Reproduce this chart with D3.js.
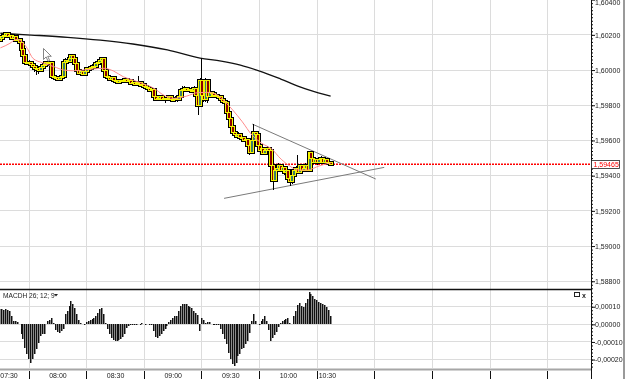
<!DOCTYPE html>
<html>
<head>
<meta charset="utf-8">
<script src="https://cdnjs.cloudflare.com/ajax/libs/d3/7.8.5/d3.min.js"></script>
<style>
  body { margin: 0; background: #fff; }
  svg { display: block; font-family: "Liberation Sans", Arial, sans-serif; will-change: transform; }
</style>
</head>
<body>
<div id="chart"></div>
<script>
// prices are in 1e-5 units (160182 = 1,60182), one bar per minute from 07:45
const opens = [
  160170,160182,160193,160199,160205,160193,160199,160182,160193,160170,
  160176,160159,160114,160080,160045,160040,160045,160034,160023,160006,
  160011,160000,160017,160028,160034,160045,160040,160045,159966,159955,
  159960,159949,159960,159966,160045,160057,160051,160063,160080,160068,
  160040,160000,159983,159989,159977,159989,160006,160011,160017,160023,
  160023,160040,160045,160057,160063,160000,159966,159955,159949,159955,
  159943,159937,159932,159943,159937,159943,159949,159937,159943,159926,
  159932,159920,159926,159932,159915,159920,159909,159903,159898,159886,
  159892,159847,159835,159841,159847,159835,159841,159830,159841,159847,
  159830,159835,159841,159830,159847,159886,159892,159898,159886,159892,
  159881,159886,159898,159858,159801,159943,159858,159830,159943,159852,
  159875,159864,159852,159858,159847,159852,159835,159824,159818,159761,
  159727,159682,159648,159636,159625,159636,159619,159614,159602,159608,
  159574,159534,159602,159648,159631,159574,159545,159557,159528,159545,
  159557,159545,159460,159375,159432,159443,159460,159432,159449,159420,
  159432,159386,159364,159403,159432,159443,159420,159455,159432,159443,
  159460,159432,159534,159500,159477,159489,159472,159489,159500,159477,
  159489,159472,159477
];
const highs = [
  160199,160205,160210,160210,160210,160205,160205,160199,160199,160182,
  160182,160165,160119,160085,160051,160057,160051,160040,160028,160023,
  160017,160023,160034,160040,160051,160057,160051,160051,159972,159966,
  159966,159966,159977,160051,160068,160063,160068,160085,160085,160074,
  160045,160006,160000,159994,160000,160011,160023,160028,160034,160040,
  160045,160057,160063,160074,160068,160006,159972,159960,159960,159960,
  159949,159943,159949,159949,159955,159960,159955,159949,159949,159937,
  159937,159932,159966,159937,159926,159926,159915,159909,159903,159898,
  159898,159852,159852,159852,159852,159847,159847,159852,159858,159852,
  159847,159852,159847,159858,159898,159909,159909,159903,159903,159898,
  159898,159909,159903,159869,159955,160068,159886,159955,159949,159886,
  159881,159869,159869,159864,159858,159858,159841,159835,159824,159767,
  159733,159688,159653,159642,159648,159642,159631,159619,159619,159614,
  159580,159608,159693,159653,159636,159580,159568,159563,159551,159568,
  159563,159551,159500,159443,159455,159472,159466,159460,159455,159443,
  159438,159398,159415,159443,159455,159517,159466,159460,159455,159472,
  159466,159540,159540,159506,159500,159500,159500,159511,159506,159500,
  159494,159489,159483
];
const lows = [
  160165,160176,160188,160193,160182,160188,160170,160176,160159,160165,
  160148,160102,160068,160034,160028,160034,160023,160011,159989,159972,
  159977,159989,160011,160023,160028,160034,160034,159955,159943,159943,
  159937,159943,159955,159960,160040,160045,160045,160057,160057,160028,
  159989,159972,159972,159966,159972,159983,160000,160006,160011,160011,
  160017,160034,160040,160051,159989,159955,159943,159937,159943,159932,
  159926,159920,159926,159926,159932,159937,159926,159932,159915,159920,
  159909,159915,159920,159903,159909,159898,159892,159886,159875,159881,
  159835,159824,159830,159830,159824,159830,159812,159824,159830,159818,
  159824,159830,159818,159824,159841,159881,159886,159875,159881,159869,
  159875,159881,159847,159744,159790,159847,159818,159818,159812,159847,
  159852,159841,159847,159835,159841,159824,159812,159807,159750,159716,
  159671,159636,159625,159614,159619,159608,159602,159591,159597,159563,
  159517,159523,159597,159619,159563,159534,159534,159517,159517,159540,
  159534,159443,159318,159364,159420,159432,159420,159426,159403,159409,
  159375,159341,159352,159392,159420,159409,159409,159420,159426,159432,
  159420,159426,159489,159466,159472,159460,159466,159483,159466,159472,
  159460,159460,159455
];
const closes = [
  160182,160193,160199,160205,160193,160199,160182,160193,160170,160176,
  160159,160114,160080,160045,160040,160045,160034,160023,160006,160011,
  160000,160017,160028,160034,160045,160040,160045,159966,159955,159960,
  159949,159960,159966,160045,160057,160051,160063,160080,160068,160040,
  160000,159983,159989,159977,159989,160006,160011,160017,160023,160023,
  160040,160045,160057,160063,160000,159966,159955,159949,159955,159943,
  159937,159932,159943,159937,159943,159949,159937,159943,159926,159932,
  159920,159926,159932,159915,159920,159909,159903,159898,159886,159892,
  159847,159835,159841,159847,159835,159841,159830,159841,159847,159830,
  159835,159841,159830,159847,159886,159892,159898,159886,159892,159881,
  159886,159898,159858,159801,159943,159858,159830,159943,159852,159875,
  159864,159852,159858,159847,159852,159835,159824,159818,159761,159727,
  159682,159648,159636,159625,159636,159619,159614,159602,159608,159574,
  159534,159602,159648,159631,159574,159545,159557,159528,159545,159557,
  159545,159460,159375,159432,159443,159460,159432,159449,159420,159432,
  159386,159364,159403,159432,159443,159420,159455,159432,159443,159460,
  159432,159534,159500,159477,159489,159472,159489,159500,159477,159489,
  159472,159477,159465
];

// MACD histogram, 1e-5 units, same bars
const macdHist = [
  8.5, 8.5, 8.3, 8.5, 8.1, 7.6, 4.7, 1.9, 1.9, 1.3,
  0.4, -5.7, -8.5, -13.3, -17.0, -19.9, -21.8, -19.9, -17.0, -14.2,
  -10.4, -6.6, -5.7, -5.3, 0.4, 1.9, 2.5, 3.8, 0.9, -3.4,
  -4.4, -5.1, -3.8, -2.8, 5.7, 7.6, 10.4, 13.3, 11.7, 9.1,
  6.1, 2.3, 0.8, 0.4, -0.4, 1.1, 1.9, 2.3, 2.8, 3.8,
  4.7, 6.6, 8.5, 9.5, 6.1, 0.9, -2.8, -5.7, -7.6, -9.1,
  -9.5, -9.5, -8.9, -8.1, -7.2, -5.3, -2.3, -0.9, -0.6, -0.4,
  -0.4, 0.1, 0.4, 0.1, 0.6, 0.4, -0.4, 0.4, 0.1, -0.6,
  -3.8, -7.2, -7.6, -6.4, -5.3, -3.8, -2.7, -0.9, 1.3, 2.7,
  3.8, 4.5, 4.5, 7.6, 10.4, 11.7, 11.7, 11.4, 10.6, 9.8,
  9.1, 7.6, 6.4, 5.3, -3.8, 3.4, 2.7, 0.9, 1.3, 1.3,
  0.4, 0.1, 0.1, -0.4, -0.4, -2.8, -5.7, -8.5, -11.4, -16.1,
  -19.9, -22.3, -23.7, -21.8, -18.0, -16.7, -14.2, -13.3, -11.4, -9.5,
  -4.7, 1.9, 6.1, 1.9, 0.4, -0.4, 1.9, 2.8, 4.7, 1.9,
  -3.4, -9.5, -8.0, -6.3, -4.2, -1.5, 0.9, 1.9, 2.5, 3.0,
  3.4, 0.9, 0.4, 4.7, 7.6, 11.0, 12.3, 10.4, 9.8, 12.3,
  14.2, 18.6, 17.4, 15.9, 14.6, 13.6, 12.5, 12.3, 11.7, 11.0,
  9.8, 8.0, 4.7
];

// moving averages read at some bars
const slowMaBars = [0, 16, 35, 52, 69, 87, 104, 115, 125, 135, 146, 156, 161, 172];
const slowMa = [160209, 160199, 160186, 160170, 160148, 160114, 160068, 160051, 160028, 159994, 159949, 159905, 159886, 159852];
const fastMaBars = [0, 5, 8, 10, 14, 17, 22, 28, 33, 38, 43, 48, 54, 59, 64, 69, 74, 80, 85, 90,
  97, 103, 108, 113, 117, 121, 126, 131, 136, 142, 145, 150, 155, 160, 166, 171, 172];
const fastMa = [160126, 160152, 160174, 160170, 160123, 160066, 160041, 160019, 160000, 159996,
  160000, 160006, 160010, 159994, 159962, 159943, 159924, 159896, 159858, 159839,
  159852, 159872, 159873, 159858, 159820, 159773, 159706, 159631, 159585, 159545,
  159507, 159460, 159432, 159432, 159455, 159470, 159472];

// triangle drawn on the chart
const trendUpper = [["09:56:12", 159693], ["11:00:30", 159381]];
const trendLower = [["09:41:30", 159271], ["11:04:54", 159447]];

const lastPrice = 159465;
const priceTicks = [158800, 159000, 159200, 159400, 159600, 159800, 160000, 160200, 160400];
const macdTicks = [10, 0, -10, -20];
const timeLabels = ["07:30", "08:00", "08:30", "09:00", "09:30", "10:00", "10:30"];

const W = 625, H = 379, plotW = 591;
const mainBottom = 289, macdTop = 290, macdBottom = 368;

const parseTime = d3.timeParse("%H:%M:%S");
const firstBar = parseTime("07:45:00");

const bars = closes.map((c, i) => ({
  t: d3.timeMinute.offset(firstBar, i),
  o: opens[i], h: highs[i], l: lows[i], c: c, m: macdHist[i]
}));

const x = d3.scaleTime().domain([parseTime("07:44:48"), parseTime("12:52:36")]).range([0, plotW]);
const y = d3.scaleLinear().domain([158756, 160398]).range([mainBottom, 0]);
const yM = d3.scaleLinear().domain([-24.8, 19.5]).range([macdBottom, macdTop]);

const fmt = v => (v / 1e5).toFixed(5).replace(".", ",");

const svg = d3.select("#chart").append("svg")
  .attr("width", W).attr("height", H);

svg.append("defs").call(d => {
  d.append("clipPath").attr("id", "clipMain").append("rect")
    .attr("x", 0).attr("y", 0).attr("width", plotW).attr("height", mainBottom);
  d.append("clipPath").attr("id", "clipMacd").append("rect")
    .attr("x", 0).attr("y", macdTop).attr("width", plotW).attr("height", macdBottom - macdTop);
});

// grid
const gridTimes = x.ticks(d3.timeMinute.every(30));
const grid = svg.append("g").attr("stroke", "#dcdcdc").attr("shape-rendering", "crispEdges");
grid.selectAll(".vg").data(gridTimes).join("line")
  .attr("x1", d => x(d)).attr("x2", d => x(d))
  .attr("y1", 0).attr("y2", macdBottom);
grid.selectAll(".hg").data(priceTicks).join("line")
  .attr("x1", 0).attr("x2", plotW)
  .attr("y1", d => y(d)).attr("y2", d => y(d));
grid.selectAll(".mg").data(macdTicks).join("line")
  .attr("x1", 0).attr("x2", plotW)
  .attr("y1", d => yM(d)).attr("y2", d => yM(d));

// main panel
const main = svg.append("g").attr("clip-path", "url(#clipMain)");

const maLine = d3.line().x(d => x(bars[d[0]].t)).y(d => y(d[1])).curve(d3.curveMonotoneX);
main.append("path")
  .datum(slowMaBars.map((b, i) => [b, slowMa[i]]))
  .attr("fill", "none").attr("stroke", "#111").attr("stroke-width", 1.3)
  .attr("d", maLine);

const lastY = y(lastPrice);
main.append("line")
  .attr("x1", 0).attr("x2", plotW).attr("y1", lastY).attr("y2", lastY)
  .attr("stroke", "#f00").attr("stroke-width", 1.5).attr("stroke-dasharray", "2,1");

const trend = d3.line().x(d => x(parseTime(d[0]))).y(d => y(d[1]));
[trendUpper, trendLower].forEach(t => {
  main.append("path").datum(t)
    .attr("fill", "none").attr("stroke", "#7a7a7a").attr("stroke-width", 1)
    .attr("d", trend);
});

// candles: black halo, wicks, then yellow-edged bodies
const bodyY = d => y(Math.max(d.o, d.c));
const bodyH = d => Math.max(1, Math.abs(y(d.o) - y(d.c)));
const candles = main.append("g").attr("shape-rendering", "crispEdges");
candles.append("g").selectAll("rect").data(bars).join("rect")
  .attr("x", d => x(d.t) - 1.5).attr("width", 3)
  .attr("y", bodyY).attr("height", bodyH)
  .attr("fill", "#000").attr("stroke", "#000").attr("stroke-width", 3);
candles.append("g").selectAll("line").data(bars).join("line")
  .attr("x1", d => x(d.t)).attr("x2", d => x(d.t))
  .attr("y1", d => y(d.h)).attr("y2", d => y(d.l))
  .attr("stroke", "#000");
candles.append("g").selectAll("rect").data(bars).join("rect")
  .attr("x", d => x(d.t) - 1.5).attr("width", 3)
  .attr("y", bodyY).attr("height", bodyH)
  .attr("fill", d => d.c >= d.o ? "#3c7d68" : "#8b0000")
  .attr("stroke", "#f4f400").attr("stroke-width", 1);

main.append("path")
  .datum(fastMaBars.map((b, i) => [b, fastMa[i]]))
  .attr("fill", "none").attr("stroke", "#ff8c8c").attr("stroke-width", 1)
  .attr("d", maLine);

// mouse pointer
main.append("path")
  .attr("d", "M43.5,48.5 l0,11 l2.6,-2.6 l2,4.4 l1.6,-0.8 l-2,-4.2 l3.6,0 z")
  .attr("fill", "#fff").attr("stroke", "#666").attr("stroke-width", 0.8);

// separators
svg.append("line").attr("x1", 0).attr("x2", plotW).attr("y1", 289.5).attr("y2", 289.5)
  .attr("stroke", "#111").attr("stroke-width", 1.5);

// MACD panel
const macd = svg.append("g").attr("clip-path", "url(#clipMacd)").attr("shape-rendering", "crispEdges");
const mg = macd.selectAll("g").data(bars).join("g");
mg.append("rect")
  .attr("x", d => x(d.t) - 1).attr("width", 2)
  .attr("y", d => Math.min(yM(0), yM(d.m)))
  .attr("height", d => Math.max(0.6, Math.abs(yM(d.m) - yM(0))))
  .attr("fill", "#8c8c8c");
mg.append("rect")
  .attr("x", d => x(d.t) - 1).attr("width", 1)
  .attr("y", d => Math.min(yM(0), yM(d.m)))
  .attr("height", d => Math.max(0.6, Math.abs(yM(d.m) - yM(0))))
  .attr("fill", "#111");

svg.append("text").attr("x", 3).attr("y", 297.5)
  .attr("font-size", 6.6).attr("fill", "#222")
  .text("MACDH 26; 12; 9");
svg.append("path").attr("d", "M54,294 l4,0 l-2,2.5 z").attr("fill", "#222");

// panel icons
svg.append("rect").attr("x", 574.5).attr("y", 292.5).attr("width", 5).attr("height", 4)
  .attr("fill", "none").attr("stroke", "#222");
svg.append("text").attr("x", 582).attr("y", 298).attr("font-size", 7).attr("font-weight", "bold")
  .attr("fill", "#222").text("x");

// right axes
const axisStyle = g => {
  g.select(".domain").remove();
  g.selectAll("text").attr("font-size", 7).attr("fill", "#222")
    .attr("font-family", "Liberation Sans, Arial, sans-serif");
  g.selectAll("line").attr("stroke", "#111");
};
svg.append("g").attr("transform", `translate(${plotW},0)`)
  .call(d3.axisRight(y).tickValues(d3.range(158760, 160400, 20)).tickSize(2).tickFormat(""))
  .call(axisStyle);
const priceAxis = svg.append("g").attr("transform", `translate(${plotW},0)`)
  .call(d3.axisRight(y).tickValues(priceTicks).tickSize(4).tickPadding(0).tickFormat(fmt))
  .call(axisStyle);
// keep the top label inside the window
priceAxis.selectAll(".tick text").filter(d => y(d) < 4).attr("dy", "0.75em");
svg.append("g").attr("transform", `translate(${plotW},0)`)
  .call(d3.axisRight(yM).tickValues(d3.range(-24, 20, 2)).tickSize(2).tickFormat(""))
  .call(axisStyle);
svg.append("g").attr("transform", `translate(${plotW},0)`)
  .call(d3.axisRight(yM).tickValues(macdTicks).tickSize(4).tickPadding(0).tickFormat(fmt))
  .call(axisStyle);

svg.append("line").attr("x1", plotW + 0.5).attr("x2", plotW + 0.5).attr("y1", 0).attr("y2", H)
  .attr("stroke", "#111");

// last price tag
svg.append("rect").attr("x", plotW + 0.5).attr("y", lastY - 3.8).attr("width", 28).attr("height", 8)
  .attr("fill", "#fff").attr("stroke", "#222").attr("stroke-width", 0.8);
svg.append("text").attr("x", plotW + 2.5).attr("y", lastY + 2.6)
  .attr("font-size", 7).attr("fill", "#f00").text(fmt(lastPrice));

// time axis
svg.append("rect").attr("x", 0).attr("y", 368.5).attr("width", plotW).attr("height", 2)
  .attr("fill", "#a6a6a6");
svg.append("g").attr("shape-rendering", "crispEdges")
  .selectAll("line").data(gridTimes).join("line")
  .attr("x1", d => x(d)).attr("x2", d => x(d))
  .attr("y1", 370.5).attr("y2", H)
  .attr("stroke", "#111");

const xEnd = x(bars[bars.length - 1].t) + 7;
svg.append("g").selectAll("text").data(timeLabels).join("text")
  .attr("x", d => {
    const t0 = parseTime(d + ":00");
    const t1 = d3.timeMinute.offset(t0, 30);
    return Math.max(9, (x(t0) + Math.min(x(t1), xEnd)) / 2);
  })
  .attr("y", 377.5)
  .attr("text-anchor", "middle")
  .attr("font-size", 7).attr("fill", "#222")
  .text(d => d);

// window edge
svg.append("rect").attr("x", 623).attr("y", 0).attr("width", 2).attr("height", H).attr("fill", "#9a9a9a");
</script>
</body>
</html>
